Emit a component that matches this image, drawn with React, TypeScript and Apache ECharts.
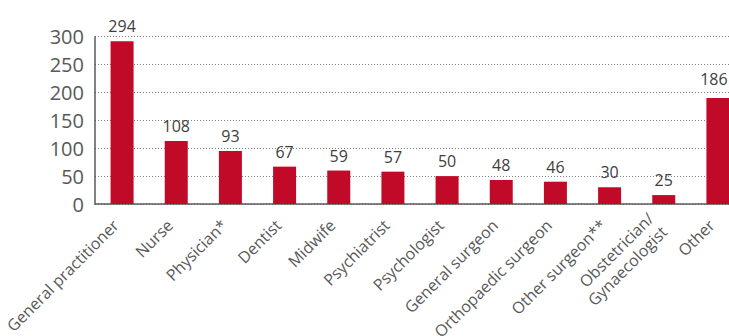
import React, { useEffect, useRef } from "react";
import * as echarts from "echarts";

const categories = [
  "General practitioner",
  "Nurse",
  "Physician*",
  "Dentist",
  "Midwife",
  "Psychiatrist",
  "Psychologist",
  "General surgeon",
  "Orthopaedic surgeon",
  "Other surgeon**",
  "Obstetrician/\nGynaecologist",
  "Other",
];
// bar heights as drawn in the picture
const barValues = [292, 113, 95, 67, 60, 58, 50, 43, 40, 30, 16, 190];
// numbers printed above the bars
const labelValues = [294, 108, 93, 67, 59, 57, 50, 48, 46, 30, 25, 186];
const yTicks = { min: 0, max: 300, interval: 50 };

const FONT = "'Open Sans', 'Noto Sans', sans-serif";

export default function App() {
  const ref = useRef<HTMLDivElement>(null);
  useEffect(() => {
    if (!ref.current) return;
    const chart = echarts.init(ref.current, undefined, { renderer: "svg" });
    const lastIdx = barValues.length - 1;
    chart.setOption({
      animation: false,
      backgroundColor: "#ffffff",
      grid: {
        left: 95,
        top: 36.7,
        width: 650,
        height: 167.3,
        containLabel: false,
        outerBoundsMode: "none",
      },
      xAxis: {
        type: "category",
        data: categories,
        axisLine: { lineStyle: { color: "#595959", width: 1.5 } },
        axisTick: { show: false },
        axisLabel: {
          rotate: 45,
          interval: 0,
          margin: 12,
          padding: [0, 9, 0, 0],
          fontSize: 16,
          fontFamily: FONT,
          color: "#595959",
          lineHeight: 19,
          hideOverlap: false,
        },
      },
      yAxis: {
        type: "value",
        min: yTicks.min,
        max: yTicks.max,
        interval: yTicks.interval,
        axisLine: { show: true, lineStyle: { color: "#595959", width: 1.5 } },
        axisTick: { show: false },
        axisLabel: { margin: 11, fontSize: 20, fontFamily: FONT, color: "#595959" },
        splitLine: { lineStyle: { color: "#7f7f7f", type: [1, 2], width: 1 } },
      },
      series: [
        {
          type: "bar",
          data: barValues.map((v, i) =>
            i === lastIdx ? { value: v, label: { offset: [-4, -4] } } : v
          ),
          barWidth: 23,
          itemStyle: { color: "#C10A28" },
          label: {
            show: true,
            position: "top",
            distance: 7,
            fontSize: 16,
            fontFamily: FONT,
            color: "#404040",
            formatter: (p: any) => String(labelValues[p.dataIndex]),
          },
        },
      ],
    });
    return () => chart.dispose();
  }, []);
  return (
    <div
      ref={ref}
      style={{ position: "fixed", left: 0, top: 0, width: 729, height: 336, overflow: "hidden" }}
    />
  );
}
